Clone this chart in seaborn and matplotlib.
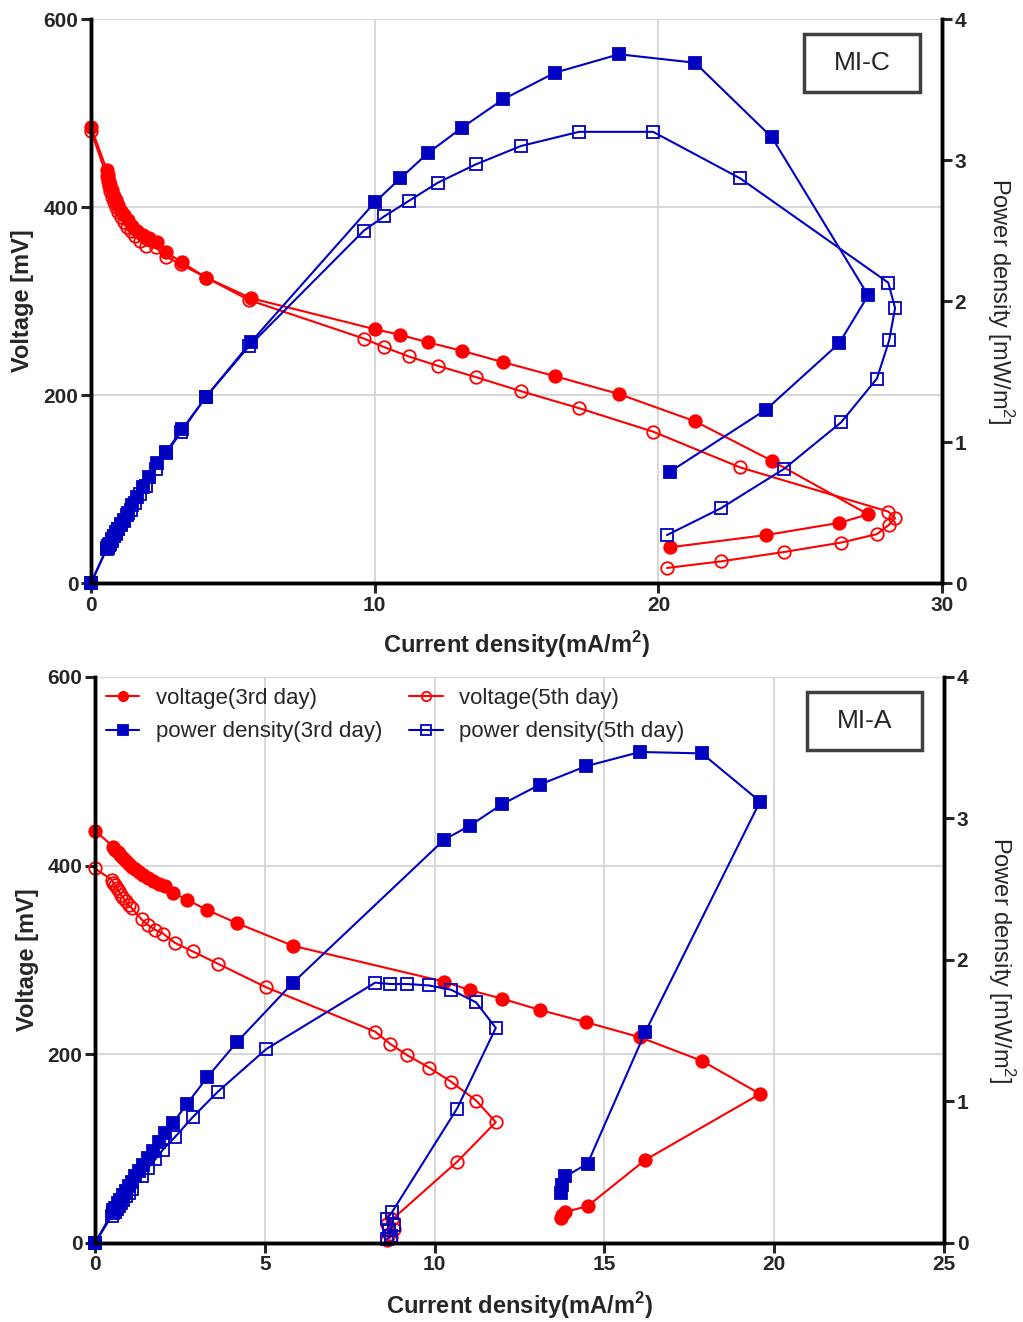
import numpy as np
import matplotlib
matplotlib.use('Agg')
import matplotlib.pyplot as plt
import seaborn as sns
from matplotlib.patches import Rectangle

# ---- MI-C (top panel) ----
c3_i = [0, 0.56, 0.60, 0.63, 0.67, 0.74, 0.81, 0.88, 0.95, 1.06, 1.16, 1.30, 1.44, 1.62, 1.83, 2.05,
        2.33, 2.64, 3.21, 4.05, 5.64, 10.0, 10.9, 11.88, 13.08, 14.52, 16.36, 18.61, 21.29, 24.0,
        27.39, 26.37, 23.79, 20.41]
c3_v = [485, 439, 434, 428, 423, 418, 412, 407, 402, 396, 391, 386, 380, 375, 370, 367,
        363, 352, 341, 325, 303, 270, 264, 256, 247, 235, 220, 201, 172, 130,
        73, 64, 51, 38]
c3_p = [0, 0.25, 0.26, 0.27, 0.28, 0.31, 0.33, 0.36, 0.38, 0.42, 0.45, 0.50, 0.55, 0.61, 0.68, 0.75,
        0.85, 0.93, 1.09, 1.32, 1.71, 2.70, 2.87, 3.05, 3.23, 3.43, 3.62, 3.75, 3.69, 3.16,
        2.04, 1.70, 1.23, 0.79]

c5_i = [0, 0.55, 0.59, 0.63, 0.68, 0.74, 0.81, 0.88, 0.96, 1.05, 1.15, 1.27, 1.40, 1.55, 1.72, 1.92,
        2.28, 2.65, 3.17, 4.05, 5.57, 9.62, 10.33, 11.2, 12.23, 13.57, 15.16, 17.2, 19.81, 22.88,
        28.1, 28.34, 28.13, 27.7, 26.44, 24.43, 22.2, 20.3]
c5_v = [481, 433, 428, 422, 417, 411, 405, 400, 395, 389, 384, 379, 374, 369, 364, 359,
        357, 347, 339, 325, 301, 260, 251, 241, 231, 219, 204, 186, 161, 123,
        76, 69, 62, 52, 43, 33, 23, 16]
c5_p = [0, 0.24, 0.25, 0.27, 0.28, 0.30, 0.33, 0.35, 0.38, 0.41, 0.44, 0.48, 0.52, 0.57, 0.63, 0.69,
        0.81, 0.92, 1.07, 1.32, 1.68, 2.50, 2.60, 2.71, 2.84, 2.97, 3.10, 3.20, 3.20, 2.87,
        2.13, 1.95, 1.72, 1.45, 1.14, 0.81, 0.53, 0.34]

# ---- MI-A (bottom panel) ----
a3_i = [0, 0.54, 0.60, 0.67, 0.74, 0.82, 0.90, 0.99, 1.08, 1.18, 1.29, 1.41, 1.55, 1.70, 1.87, 2.05,
        2.30, 2.70, 3.30, 4.18, 5.83, 10.28, 11.04, 11.98, 13.1, 14.46, 16.05, 17.87, 19.58,
        16.2, 14.5, 13.85, 13.75, 13.72]
a3_v = [437, 420, 417, 414, 411, 408, 405, 402, 399, 396, 393, 390, 387, 384, 381, 378,
        371, 364, 353, 339, 315, 277, 268, 259, 247, 234, 218, 193, 158,
        88, 39, 33, 30, 26]
a3_p = [0, 0.23, 0.25, 0.28, 0.30, 0.34, 0.37, 0.40, 0.43, 0.47, 0.51, 0.55, 0.60, 0.65, 0.71, 0.78,
        0.85, 0.98, 1.17, 1.42, 1.84, 2.85, 2.95, 3.10, 3.24, 3.37, 3.47, 3.46, 3.12,
        1.49, 0.56, 0.47, 0.41, 0.35]

a5_i = [0, 0.49, 0.54, 0.59, 0.64, 0.70, 0.76, 0.83, 0.90, 0.99, 1.08, 1.37, 1.56, 1.77, 2.0, 2.36,
        2.88, 3.62, 5.04, 8.25, 8.69, 9.19, 9.83, 10.48, 11.22, 11.8, 10.66,
        8.75, 8.6, 8.8, 8.65, 8.7, 8.6]
a5_v = [397, 385, 382, 379, 376, 373, 369, 366, 362, 358, 355, 343, 337, 332, 328, 318,
        309, 296, 271, 224, 211, 199, 186, 171, 151, 128, 86,
        25, 20, 15, 10, 6, 3]
a5_p = [0, 0.19, 0.21, 0.22, 0.24, 0.26, 0.28, 0.30, 0.33, 0.35, 0.38, 0.47, 0.53, 0.59, 0.66, 0.75,
        0.89, 1.07, 1.37, 1.84, 1.83, 1.83, 1.82, 1.79, 1.70, 1.52, 0.95,
        0.22, 0.17, 0.13, 0.09, 0.05, 0.03]

labels = ['voltage(3rd day)', 'voltage(5th day)', 'power density(3rd day)', 'power density(5th day)']

sns.set_style('white')
plt.rcParams['font.family'] = ['Liberation Sans', 'DejaVu Sans']
plt.rcParams['mathtext.fontset'] = 'custom'
plt.rcParams['mathtext.rm'] = 'Liberation Sans'
plt.rcParams['mathtext.bf'] = 'Liberation Sans:bold'

RED = '#ff0000'
BLUE = '#0000c0'


def panel(ax, i3, v3, p3, i5, v5, p5, xmax, xstep, tag):
    ax2 = ax.twinx()
    common = dict(sort=False, estimator=None, legend=False, lw=1.5, markersize=9,
                  markeredgewidth=1.3, clip_on=False)
    sns.lineplot(x=i3, y=v3, ax=ax, color=RED, marker='o', markeredgecolor=RED,
                 label=labels[0], **common)
    sns.lineplot(x=i5, y=v5, ax=ax, color=RED, marker='o', markeredgecolor=RED,
                 markerfacecolor='none', label=labels[1], **common)
    sns.lineplot(x=i3, y=p3, ax=ax2, color=BLUE, marker='s', markeredgecolor=BLUE,
                 label=labels[2], **common)
    sns.lineplot(x=i5, y=p5, ax=ax2, color=BLUE, marker='s', markeredgecolor=BLUE,
                 markerfacecolor='none', label=labels[3], **common)

    ax.set_xlim(0, xmax)
    ax.set_ylim(0, 600)
    ax2.set_ylim(0, 4)
    ax.set_xticks(np.arange(0, xmax + 1, xstep))
    ax.set_yticks([0, 200, 400, 600])
    ax2.set_yticks([0, 1, 2, 3, 4])
    ax.grid(True, color='#d4d4d4', lw=1.3)
    ax.set_axisbelow(True)

    for a in (ax, ax2):
        for s in a.spines.values():
            s.set_linewidth(2.5)
            s.set_color('black')
        a.spines['top'].set_visible(False)
        a.tick_params(direction='out', length=7, width=2.2, labelsize=15, pad=2)
        for t in a.get_xticklabels() + a.get_yticklabels():
            t.set_fontweight('bold')
    ax.tick_params(bottom=True, left=True)
    ax2.tick_params(right=True)

    ax.set_xlabel('Current density(mA/m$^\\mathbf{2}$)', fontsize=17, fontweight='bold')
    ax.set_ylabel('Voltage [mV]', fontsize=17, fontweight='bold')
    ax2.set_ylabel('Power density [mW/m$^2$]', fontsize=17, rotation=270)
    ax.xaxis.label.set_va('center')
    ax.yaxis.label.set_va('center')
    ax2.yaxis.label.set_va('center')
    ax.xaxis.set_label_coords(0.5, -0.11)
    ax.yaxis.set_label_coords(-0.08, 0.5)
    ax2.yaxis.set_label_coords(1.068, 0.5)

    ax2.add_patch(Rectangle((0.838, 0.871), 0.136, 0.103, transform=ax2.transAxes,
                            fill=False, edgecolor='#404040', lw=2.5, zorder=10))
    ax2.text(0.906, 0.922, tag, transform=ax2.transAxes, ha='center', va='center',
             fontsize=19, zorder=11)
    return ax2


fig = plt.figure(figsize=(10.23, 13.22), dpi=100)
ax_top = fig.add_axes([0.089, 0.559, 0.832, 0.4266])
ax_bot = fig.add_axes([0.0929, 0.0598, 0.830, 0.4281])

panel(ax_top, c3_i, c3_v, c3_p, c5_i, c5_v, c5_p, 30, 10, 'MI-C')
ax2_bot = panel(ax_bot, a3_i, a3_v, a3_p, a5_i, a5_v, a5_p, 25, 5, 'MI-A')

h1 = ax_bot.get_lines()
h2 = ax2_bot.get_lines()
handles = [h1[0], h2[0], h1[1], h2[1]]
ax2_bot.legend(handles, [labels[0], labels[2], labels[1], labels[3]], ncol=2,
               loc='upper left', bbox_to_anchor=(0.0, 1.0), frameon=False, fontsize=16,
               markerscale=0.75, handlelength=1.5, handletextpad=0.75, columnspacing=1.2,
               labelspacing=0.55, borderaxespad=0.1)

fig.savefig('out.png', dpi=100)
